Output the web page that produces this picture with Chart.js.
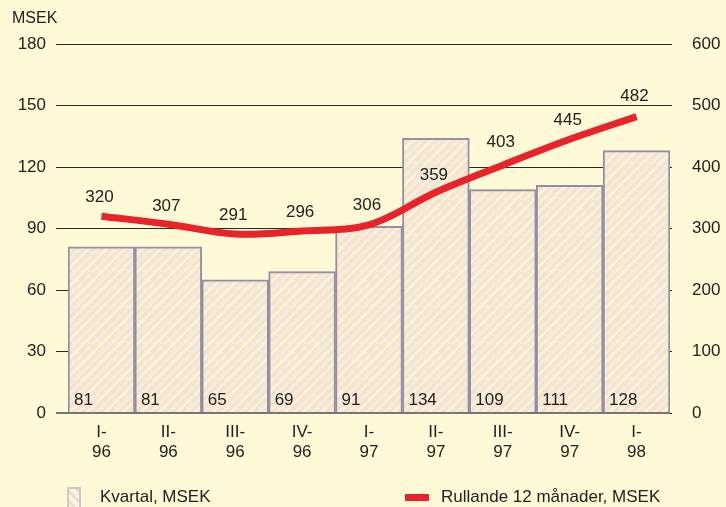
<!DOCTYPE html>
<html>
<head>
<meta charset="utf-8">
<script src="https://cdn.jsdelivr.net/npm/chart.js@4"></script>
<style>
  html, body { margin: 0; padding: 0; background: #fef9d7; }
  #wrap { position: relative; width: 726px; height: 507px; overflow: hidden; background: #fef9d7; }
  canvas { position: absolute; left: 0; top: 0; }
  .t { position: absolute; font-family: "Liberation Sans", Arial, sans-serif; color: #222; white-space: nowrap; }
</style>
</head>
<body>
<div id="wrap">
  <canvas id="c" width="726" height="507"></canvas>
  <div class="t" style="left:12px; top:9px; font-size:16px;">MSEK</div>
  <div id="lg1box" style="position:absolute; left:67px; top:487px; width:14px; height:24px; border:2px solid #cfc8c6; box-sizing:border-box;"></div>
  <div class="t" style="left:100px; top:487px; font-size:17px;">Kvartal, MSEK</div>
  <div style="position:absolute; left:405px; top:494px; width:24px; height:7px; background:#e8232a;"></div>
  <div class="t" style="left:441px; top:487px; font-size:17px;">Rullande 12 månader, MSEK</div>
</div>
<script>
const categories = [["I-","96"],["II-","96"],["III-","96"],["IV-","96"],["I-","97"],["II-","97"],["III-","97"],["IV-","97"],["I-","98"]];
const kvartal = [81, 81, 65, 69, 91, 134, 109, 111, 128];
const rullande = [320, 307, 291, 296, 306, 359, 403, 445, 482];
const leftTicks = [0, 30, 60, 90, 120, 150, 180];
const rightTicks = [0, 100, 200, 300, 400, 500, 600];
// label lift above line points (style)
const lineLabelLift = [19, 18, 19, 19, 19, 17, 23, 19, 20];

function makePattern() {
  const p = document.createElement('canvas');
  p.width = 18; p.height = 18;
  const g = p.getContext('2d');
  g.fillStyle = '#fbf2e4';
  g.fillRect(0, 0, 18, 18);
  g.strokeStyle = 'rgba(243,210,170,0.45)';
  g.lineWidth = 4;
  for (let k = -18; k <= 36; k += 9) {
    g.beginPath(); g.moveTo(k, 18); g.lineTo(k + 18, 0); g.stroke();
  }
  g.strokeStyle = 'rgba(228,234,242,0.55)';
  g.lineWidth = 2;
  for (let k = -14; k <= 36; k += 18) {
    g.beginPath(); g.moveTo(k, 18); g.lineTo(k + 18, 0); g.stroke();
  }
  return g.createPattern(p, 'repeat');
}
const ctx = document.getElementById('c').getContext('2d');
const pattern = makePattern();
document.getElementById('lg1box').style.background =
  'repeating-linear-gradient(45deg, #fbf2e4 0 4px, #f4dcc0 4px 7px)';

const labelsPlugin = {
  id: 'labelsPlugin',
  afterDatasetsDraw(chart) {
    const c = chart.ctx;
    c.save();
    c.font = '17px "Liberation Sans", Arial, sans-serif';
    c.fillStyle = '#222';
    const barMeta = chart.getDatasetMeta(1);
    c.textAlign = 'left'; c.textBaseline = 'middle';
    barMeta.data.forEach((bar, i) => {
      const left = bar.x - bar.width / 2;
      c.fillText(String(kvartal[i]), left + 6, chart.scales.y.getPixelForValue(0) - 13);
    });
    const lineMeta = chart.getDatasetMeta(0);
    c.textAlign = 'center';
    lineMeta.data.forEach((pt, i) => {
      c.fillText(String(rullande[i]), pt.x - 2, pt.y - lineLabelLift[i]);
    });
    c.restore();
  }
};

new Chart(ctx, {
  data: {
    labels: categories,
    datasets: [
      {
        type: 'line',
        data: rullande,
        yAxisID: 'y2',
        borderColor: '#e8232a',
        borderWidth: 7,
        tension: 0.35,
        pointRadius: 0,
        borderCapStyle: 'butt',
        order: 0
      },
      {
        type: 'bar',
        data: kvartal,
        yAxisID: 'y',
        backgroundColor: pattern,
        borderColor: '#948fa2',
        borderWidth: 2,
        borderSkipped: 'bottom',
        barPercentage: 1.0,
        categoryPercentage: 1.0,
        order: 1
      }
    ]
  },
  options: {
    responsive: false,
    animation: false,
    devicePixelRatio: 1,
    layout: { padding: { top: 44, bottom: 0, left: 0, right: 0 } },
    plugins: { legend: { display: false }, tooltip: { enabled: false } },
    scales: {
      x: {
        grid: { display: false, drawTicks: false },
        border: { display: false },
        ticks: { color: '#222', font: { size: 17, family: '"Liberation Sans", Arial, sans-serif' }, padding: 9, maxRotation: 0, autoSkip: false },
        afterFit(s) { s.height = 94; }
      },
      y: {
        position: 'left',
        min: 0, max: 180,
        afterBuildTicks(s) { s.ticks = leftTicks.map(v => ({ value: v })); },
        grid: {
          color: (c) => c.tick && c.tick.value === 0 ? '#77747c' : '#2a2a2a',
          lineWidth: (c) => c.tick && c.tick.value === 0 ? 2 : 1,
          tickLength: 12
        },
        border: { display: false },
        ticks: { color: '#222', font: { size: 17, family: '"Liberation Sans", Arial, sans-serif' }, padding: 10 },
        afterFit(s) { s.width = 68; }
      },
      y2: {
        position: 'right',
        min: 0, max: 600,
        afterBuildTicks(s) { s.ticks = rightTicks.map(v => ({ value: v })); },
        grid: { drawOnChartArea: false, color: '#2a2a2a', tickLength: 2 },
        border: { display: false },
        ticks: { color: '#222', font: { size: 17, family: '"Liberation Sans", Arial, sans-serif' }, padding: 20 },
        afterFit(s) { s.width = 56; }
      }
    }
  },
  plugins: [labelsPlugin]
});
</script>
</body>
</html>
